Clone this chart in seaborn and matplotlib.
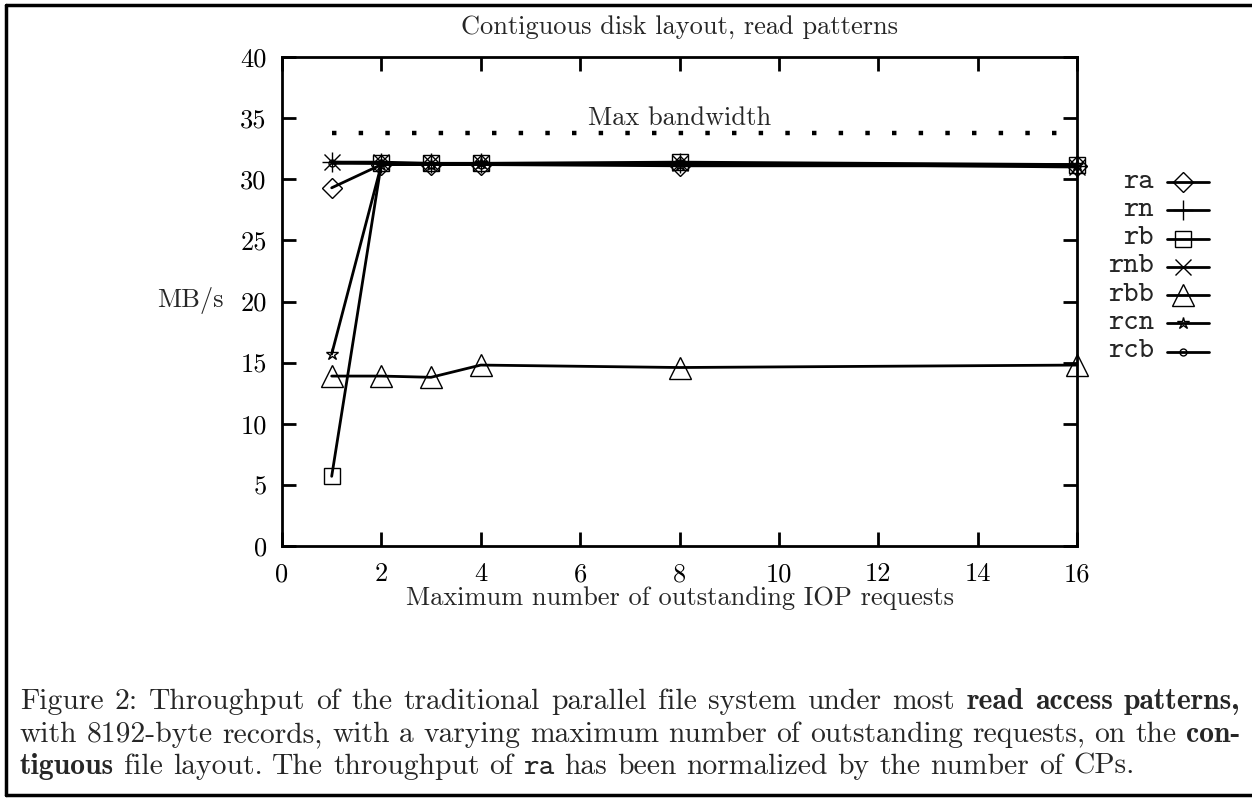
import matplotlib
matplotlib.use("Agg")
import matplotlib.pyplot as plt
import seaborn as sns
from matplotlib.lines import Line2D

# maximum number of outstanding IOP requests
outstanding = [1, 2, 3, 4, 8, 16]

# throughput in MB/s, one list per access pattern
ra = [29.3, 31.2, 31.2, 31.2, 31.1, 31.1]
rn = [31.4, 31.3, 31.3, 31.3, 31.3, 31.1]
rb = [5.7, 31.3, 31.3, 31.3, 31.4, 31.2]
rnb = [31.4, 31.4, 31.3, 31.3, 31.3, 31.0]
rbb = [13.9, 13.9, 13.8, 14.8, 14.6, 14.8]
rcn = [15.7, 31.2, 31.2, 31.3, 31.2, 31.2]
rcb = [31.3, 31.3, 31.2, 31.2, 31.3, 31.1]

series_names = ["ra", "rn", "rb", "rnb", "rbb", "rcn", "rcb"]
series_values = [ra, rn, rb, rnb, rbb, rcn, rcb]

max_bw_x = [1, 16]
max_bw_y = [33.8, 33.8]

x_ticks = [0, 2, 4, 6, 8, 10, 12, 14, 16]
y_ticks = [0, 5, 10, 15, 20, 25, 30, 35, 40]

# marker, size for each pattern (gnuplot-ish point types)
markers = {
    "ra": ("D", 10),
    "rn": ("+", 15),
    "rb": ("s", 11),
    "rnb": ("x", 11),
    "rbb": ("^", 16),
    "rcn": ("*", 9),
    "rcb": ("o", 5),
}

sns.set_theme(style="ticks")
plt.rcParams["font.family"] = ["cmr10", "DejaVu Serif"]
plt.rcParams["axes.formatter.use_mathtext"] = True

W, H = 1252, 799
fs = 19
fig = plt.figure(figsize=(W / 100, H / 100), dpi=100)
fig.patch.set_facecolor("white")


def fx(px):
    return px / W


def fy(py):
    return 1 - py / H


ax = fig.add_axes([fx(282), fy(546), fx(1077) - fx(282), fy(57) - fy(546)])
ax.set_facecolor("white")

for name, vals in zip(series_names, series_values):
    m, ms = markers[name]
    sns.lineplot(x=outstanding, y=vals, ax=ax, color="black", linewidth=2.0,
                 marker=m, markersize=ms, markerfacecolor="none",
                 markeredgecolor="black", markeredgewidth=1.0, legend=False,
                 clip_on=False)

# max bandwidth reference line
sns.lineplot(x=max_bw_x, y=max_bw_y, ax=ax, color="black", linewidth=3.2,
             linestyle=(0, (1, 5.0)), dash_capstyle="butt", legend=False)
ax.text(8, 35.0, "Max bandwidth", ha="center", va="center", fontsize=fs)

ax.set_xlim(0, 16)
ax.set_ylim(0, 40)
ax.set_xticks(x_ticks)
ax.set_yticks(y_ticks)
ax.set_xticklabels([str(t) for t in x_ticks], fontsize=fs)
ax.set_yticklabels([str(t) for t in y_ticks], fontsize=fs)
ax.tick_params(direction="in", length=10, width=2, top=True, right=True,
               colors="black")
ax.tick_params(axis="x", pad=12)
ax.tick_params(axis="y", pad=11)
for sp in ax.spines.values():
    sp.set_visible(True)
    sp.set_linewidth(2)
    sp.set_color("black")
ax.set_xlabel("")
ax.set_ylabel("")

fig.text(fx(680), fy(27), "Contiguous disk layout, read patterns",
         ha="center", va="center", fontsize=fs)
fig.text(fx(680), fy(598), "Maximum number of outstanding IOP requests",
         ha="center", va="center", fontsize=fs)
fig.text(fx(190), fy(300), "MB/s", ha="center", va="center", fontsize=fs)

# key on the right, labels right aligned
for i, name in enumerate(series_names):
    yy = 182 + 28.3 * i
    m, ms = markers[name]
    fig.text(fx(1154), fy(yy), name, ha="right", va="center", fontsize=21,
             family="cmtt10")
    fig.add_artist(Line2D([fx(1167), fx(1209)], [fy(yy), fy(yy)],
                          color="black", linewidth=2.0))
    fig.add_artist(Line2D([fx(1183)], [fy(yy)], marker=m, markersize=ms,
                          markerfacecolor="none", markeredgecolor="black",
                          markeredgewidth=1.0, linestyle="none"))

# page frame (left, top, bottom)
fig.add_artist(Line2D([fx(6), fx(6)], [fy(5), fy(795)], color="black", linewidth=2.5))
fig.add_artist(Line2D([fx(6), 1], [fy(5), fy(5)], color="black", linewidth=2.5))
fig.add_artist(Line2D([fx(6), 1], [fy(795), fy(795)], color="black", linewidth=2.5))

# caption, justified like the LaTeX original
cap_fs = 21.3
styles = {
    "n": {"family": "cmr10"},
    "b": {"family": "cmb10"},
    "t": {"family": "cmtt10"},
}
line1 = [(w, "n") for w in "Figure 2: Throughput of the traditional parallel file system under most".split()]
line1 += [(w, "b") for w in "read access patterns,".split()]
line2 = [(w, "n") for w in "with 8192-byte records, with a varying maximum number of outstanding requests, on the".split()]
line2 += [("con-", "b")]
line3 = [("tiguous", "b")]
line3 += [(w, "n") for w in "file layout. The throughput of".split()]
line3 += [("ra", "t")]
line3 += [(w, "n") for w in "has been normalized by the number of CPs.".split()]

renderer = fig.canvas.get_renderer()
left_px, right_px = 20, 1240
space_px = cap_fs * 100 / 72 * 0.333
for tokens, base, justify in [(line1, 709, True), (line2, 742, True), (line3, 774, False)]:
    arts = [fig.text(0, fy(base), w, fontsize=cap_fs, va="baseline", **styles[s])
            for w, s in tokens]
    widths = [a.get_window_extent(renderer).width for a in arts]
    if justify:
        gap = (right_px - left_px - sum(widths)) / (len(widths) - 1)
    else:
        gap = space_px
    xpos = left_px
    for a, wd in zip(arts, widths):
        a.set_x(fx(xpos))
        xpos += wd + gap

fig.savefig("out.png", dpi=100, facecolor="white")
